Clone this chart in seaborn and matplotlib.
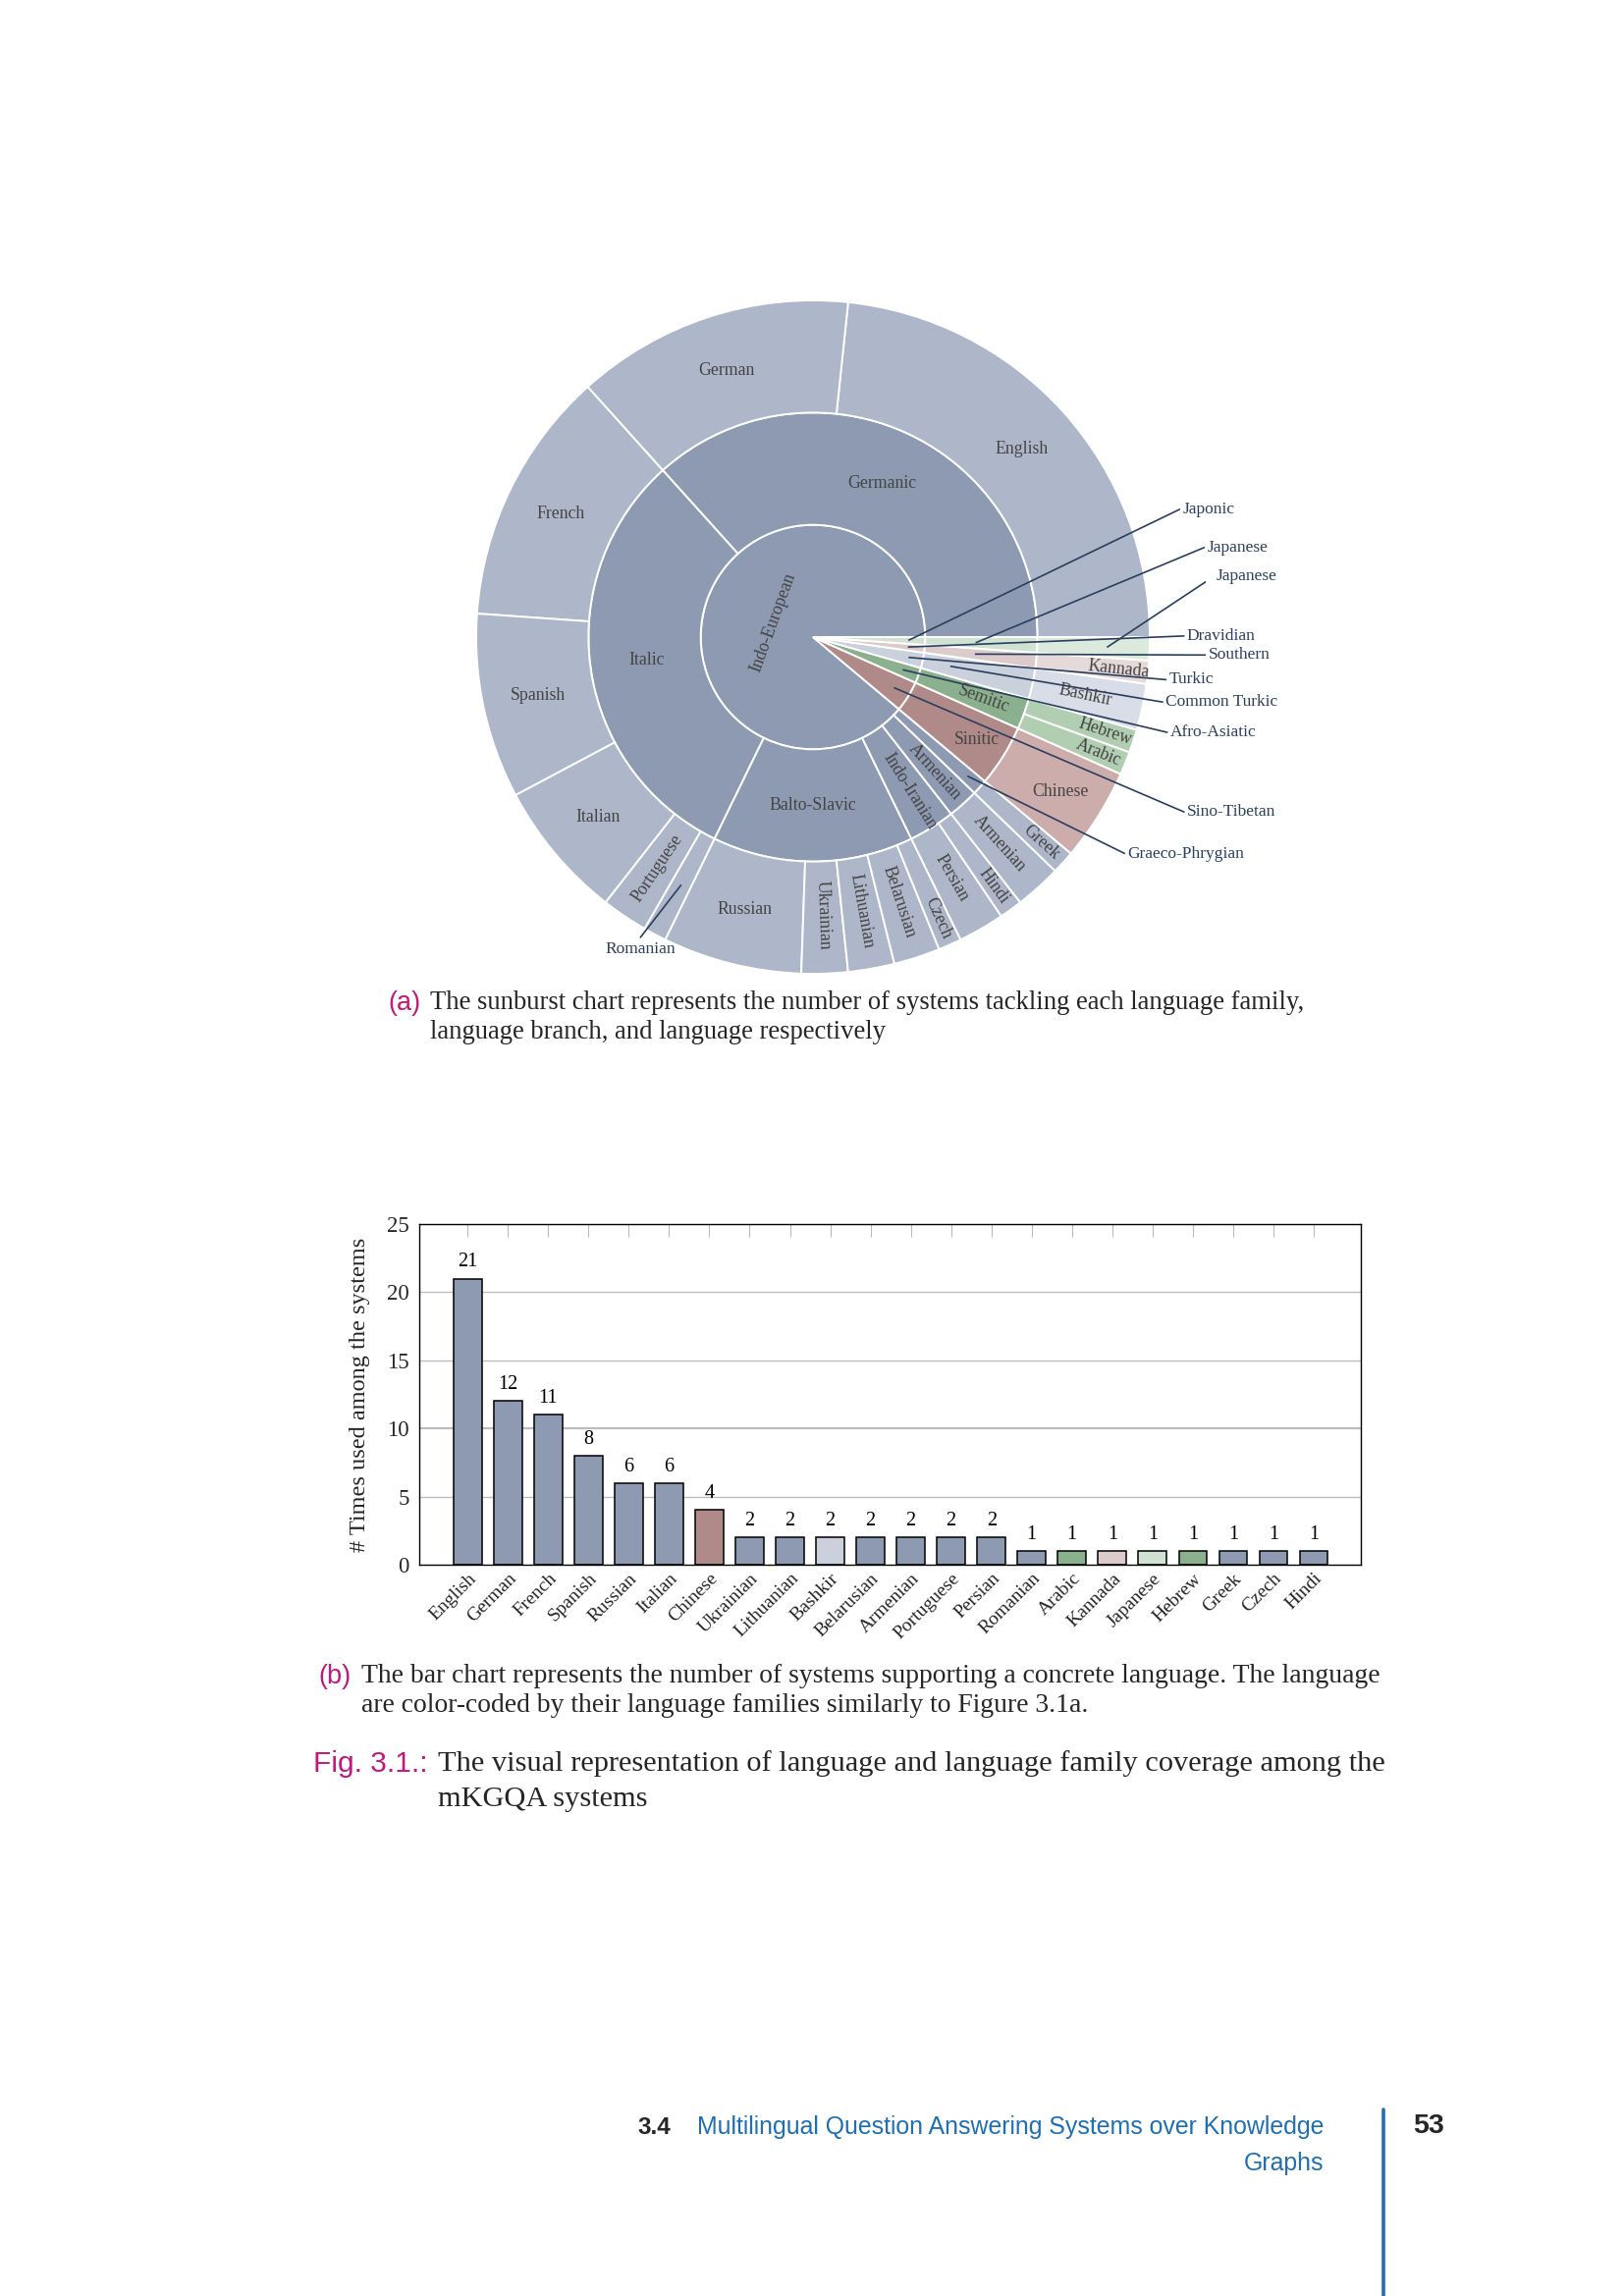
import numpy as np
import pandas as pd
import matplotlib
matplotlib.use("Agg")
import matplotlib.pyplot as plt
from matplotlib.lines import Line2D
import seaborn as sns

# ---------------- data ----------------
languages = ["English", "German", "French", "Spanish", "Russian", "Italian", "Chinese",
             "Ukrainian", "Lithuanian", "Bashkir", "Belarusian", "Armenian", "Portuguese",
             "Persian", "Romanian", "Arabic", "Kannada", "Japanese", "Hebrew", "Greek",
             "Czech", "Hindi"]
counts = [21, 12, 11, 8, 6, 6, 4, 2, 2, 2, 2, 2, 2, 2, 1, 1, 1, 1, 1, 1, 1, 1]
language_branch = ["Germanic", "Germanic", "Italic", "Italic", "Balto-Slavic", "Italic", "Sinitic",
                   "Balto-Slavic", "Balto-Slavic", "Common Turkic", "Balto-Slavic", "Armenian",
                   "Italic", "Indo-Iranian", "Italic", "Semitic", "Southern", "Japanese",
                   "Semitic", "Graeco-Phrygian", "Balto-Slavic", "Indo-Iranian"]
branches = ["Germanic", "Italic", "Balto-Slavic", "Indo-Iranian", "Armenian", "Graeco-Phrygian",
            "Sinitic", "Semitic", "Common Turkic", "Southern", "Japanese"]
branch_family = ["Indo-European"] * 6 + ["Sino-Tibetan", "Afro-Asiatic", "Turkic", "Dravidian", "Japonic"]
families = ["Indo-European", "Sino-Tibetan", "Afro-Asiatic", "Turkic", "Dravidian", "Japonic"]
sunburst_order = ["English", "German", "French", "Spanish", "Italian", "Portuguese", "Romanian",
                  "Russian", "Ukrainian", "Lithuanian", "Belarusian", "Czech", "Persian", "Hindi",
                  "Armenian", "Greek", "Chinese", "Arabic", "Hebrew", "Bashkir", "Kannada", "Japanese"]

family_dark = {"Indo-European": "#8D9AB2", "Sino-Tibetan": "#B08A89", "Afro-Asiatic": "#8BB08D",
               "Turkic": "#CAD1DD", "Dravidian": "#DDCACA", "Japonic": "#D0E2D2"}
family_light = {"Indo-European": "#AEB7C9", "Sino-Tibetan": "#CDACAC", "Afro-Asiatic": "#B2CEB2",
                "Turkic": "#D8DDE7", "Dravidian": "#E6D9D9", "Japonic": "#DCE9DD"}

# label modes: h = horizontal, r = radial, t = tangential, None = outside annotation
leaf_mode = {"English": "h", "German": "h", "French": "h", "Spanish": "h", "Italian": "h",
             "Portuguese": "r", "Romanian": None, "Russian": "h", "Ukrainian": "r",
             "Lithuanian": "r", "Belarusian": "r", "Czech": "r", "Persian": "r", "Hindi": "r",
             "Armenian": "r", "Greek": "r", "Chinese": "h", "Arabic": "r", "Hebrew": "r",
             "Bashkir": "r", "Kannada": "r", "Japanese": None}
branch_mode = {"Germanic": "h", "Italic": "h", "Balto-Slavic": "h", "Indo-Iranian": "r",
               "Armenian": "r", "Graeco-Phrygian": None, "Sinitic": "h", "Semitic": "r",
               "Common Turkic": None, "Southern": None, "Japanese": None}
family_mode = {"Indo-European": "t", "Sino-Tibetan": None, "Afro-Asiatic": None,
               "Turkic": None, "Dravidian": None, "Japonic": None}

# outside annotations: (label, ring, start radius, label position)
annotations = [("Japonic", 0, 0.85, (3.27, 1.14)),
               ("Japanese", 1, 1.45, (3.49, 0.80)),
               ("Japanese", 2, 2.62, (3.57, 0.54)),
               ("Dravidian", 0, 0.85, (3.31, 0.01)),
               ("Southern", 1, 1.45, (3.50, -0.16)),
               ("Turkic", 0, 0.87, (3.15, -0.38)),
               ("Common Turkic", 1, 1.25, (3.12, -0.58)),
               ("Afro-Asiatic", 0, 0.85, (3.16, -0.85)),
               ("Sino-Tibetan", 0, 0.85, (3.31, -1.56)),
               ("Graeco-Phrygian", 1, 1.85, (2.78, -1.93)),
               ("Romanian", 2, 2.5, (-1.54, -2.68))]

# ---------------- setup ----------------
sns.set_style("white")
plt.rcParams["font.family"] = ["Liberation Serif", "DejaVu Serif"]

W, H = 1654, 2339
fig = plt.figure(figsize=(W / 100, H / 100), dpi=100)
fig.patch.set_facecolor("white")


def fx(px):
    return px / W


def fy(py):
    return 1 - py / H


# ---------------- sunburst ----------------
cnt = dict(zip(languages, counts))
lb = dict(zip(languages, language_branch))
bf = dict(zip(branches, branch_family))
leaf_vals = [cnt[l] for l in sunburst_order]
branch_vals = [sum(cnt[l] for l in sunburst_order if lb[l] == b) for b in branches]
family_vals = [sum(v for b, v in zip(branches, branch_vals) if bf[b] == f) for f in families]
total = sum(leaf_vals)

unit = 343 / 3.0
half = 3.5
cx, cy = 828, 649
axs = fig.add_axes([fx(cx - half * unit), fy(cy + half * unit), fx(2 * half * unit), 2 * half * unit / H])

wp = dict(edgecolor="white", linewidth=1.4)
axs.pie(family_vals, radius=1, colors=[family_dark[f] for f in families], startangle=0,
        counterclock=True, wedgeprops=wp)
axs.pie(branch_vals, radius=2, colors=[family_dark[bf[b]] for b in branches], startangle=0,
        counterclock=True, wedgeprops=dict(width=1, **wp))
axs.pie(leaf_vals, radius=3, colors=[family_light[bf[lb[l]]] for l in sunburst_order], startangle=0,
        counterclock=True, wedgeprops=dict(width=1, **wp))
axs.set_xlim(-half, half)
axs.set_ylim(-half, half)
axs.set_aspect("equal")
axs.axis("off")


def mids(vals):
    c = np.cumsum([0] + list(vals))
    return [(c[i] + c[i + 1]) / 2 / total * 360 for i in range(len(vals))]


leaf_mid = mids(leaf_vals)
branch_mid = mids(branch_vals)
family_mid = mids(family_vals)

txt_col = "#444444"


def put(name, theta, r, mode):
    t = np.deg2rad(theta)
    x, y = r * np.cos(t), r * np.sin(t)
    if mode == "h":
        rot = 0
    elif mode == "r":
        rot = theta if np.cos(t) >= 0 else theta - 180
    else:
        rot = theta - 90 if np.sin(t) >= 0 else theta + 90
    axs.text(x, y, name, rotation=rot, rotation_mode="anchor", ha="center", va="center",
             fontsize=12.8, color=txt_col)


for name, v, th in zip(sunburst_order, leaf_vals, leaf_mid):
    m = leaf_mode[name]
    if m is None:
        continue
    if m == "h":
        r = 2.6 if name == "Chinese" else 2.5
    else:
        r = 2.48 if v >= 2 else 2.74
    put(name, th, r, m)

for name, v, th in zip(branches, branch_vals, branch_mid):
    m = branch_mode[name]
    if m is None:
        continue
    if m == "h":
        r = 1.72 if name == "Sinitic" else 1.5
    else:
        r = 1.62
    put(name, th, r, m)

for name, v, th in zip(families, family_vals, family_mid):
    m = family_mode[name]
    if m is None:
        continue
    put(name, th, 0.38, m)

ring_names = [families, branches, sunburst_order]
ring_mids = [family_mid, branch_mid, leaf_mid]
ann_col = "#2A3F5F"
for name, ring, r0, (lx, ly) in annotations:
    th = np.deg2rad(ring_mids[ring][ring_names[ring].index(name)])
    sx, sy = r0 * np.cos(th), r0 * np.sin(th)
    axs.plot([sx, lx], [sy, ly], color=ann_col, lw=1.2, solid_capstyle="butt")
    if name == "Romanian":
        axs.text(lx, ly - 0.03, name, ha="center", va="top", fontsize=12.5, color=ann_col)
    else:
        axs.text(lx + 0.02, ly, name, ha="left", va="center", fontsize=12.5, color=ann_col)

# ---------------- bar chart ----------------
bar_colors = [family_dark[bf[lb[l]]] for l in languages]
df = pd.DataFrame({"language": languages, "count": counts})
axb = fig.add_axes([fx(427), fy(1594), fx(1386 - 427), (1594 - 1247) / H])
sns.barplot(data=df, x="language", y="count", hue="language", palette=bar_colors, legend=False,
            width=0.7, edgecolor="black", linewidth=1.1, saturation=1, ax=axb)
axb.set_xlim(-1.2, len(languages) - 1 + 1.17)
axb.set_ylim(0, 25)
axb.set_yticks([0, 5, 10, 15, 20, 25])
for g in [5, 10, 15, 20]:
    axb.axhline(g, color="#BDBDBD", lw=1.6 if g == 10 else 1.0, zorder=0)
for sp in axb.spines.values():
    sp.set_visible(True)
    sp.set_color("black")
    sp.set_linewidth(1.0)
axb.tick_params(axis="x", bottom=False, top=True, direction="in", length=9, color="#BBBBBB",
                labelsize=14, pad=4)
axb.tick_params(axis="y", left=False, labelsize=16.5, pad=4)
plt.setp(axb.get_xticklabels(), rotation=45, ha="right", rotation_mode="anchor")
axb.set_xlabel("")
axb.set_ylabel("# Times used among the systems", fontsize=17.5, labelpad=12)
for i, v in enumerate(counts):
    axb.text(i, v + 1.2, str(v), ha="center", va="center", fontsize=14.5, color="black")

# ---------------- captions ----------------
mag = "#C2187B"
sans = ["Liberation Sans", "DejaVu Sans"]
fig.text(fx(395), fy(1022), "(a)", color=mag, fontsize=19.5, family=sans, va="center")
fig.text(fx(438), fy(1022), "The sunburst chart represents the number of systems tackling each language family,",
         fontsize=19.2, va="center")
fig.text(fx(438), fy(1052), "language branch, and language respectively", fontsize=19.2, va="center")

fig.text(fx(324), fy(1708), "(b)", color=mag, fontsize=19.5, family=sans, va="center")
fig.text(fx(368), fy(1708), "The bar chart represents the number of systems supporting a concrete language. The language",
         fontsize=19.9, va="center")
fig.text(fx(368), fy(1738), "are color-coded by their language families similarly to Figure 3.1a.",
         fontsize=19.9, va="center")

fig.text(fx(319), fy(1797), "Fig. 3.1.:", color=mag, fontsize=21.5, family=sans, va="center")
fig.text(fx(446), fy(1797), "The visual representation of language and language family coverage among the",
         fontsize=21.9, va="center")
fig.text(fx(446), fy(1833), "mKGQA systems", fontsize=21.9, va="center")

# ---------------- footer ----------------
blue = "#1F6FB4"
fig.text(fx(649), fy(2167), "3.4", fontsize=17.5, family=sans, weight="bold", va="center")
fig.text(fx(1348), fy(2167), "Multilingual Question Answering Systems over Knowledge", fontsize=17.9,
         family=sans, color=blue, ha="right", va="center")
fig.text(fx(1348), fy(2204), "Graphs", fontsize=17.9, family=sans, color=blue, ha="right", va="center")
fig.text(fx(1439), fy(2166), "53", fontsize=20.5, family=sans, weight="bold", va="center")
fig.add_artist(Line2D([fx(1409), fx(1409)], [fy(2149), fy(2339)], transform=fig.transFigure,
                      color=blue, lw=2.6))

fig.savefig("out.png", dpi=100, facecolor="white")
